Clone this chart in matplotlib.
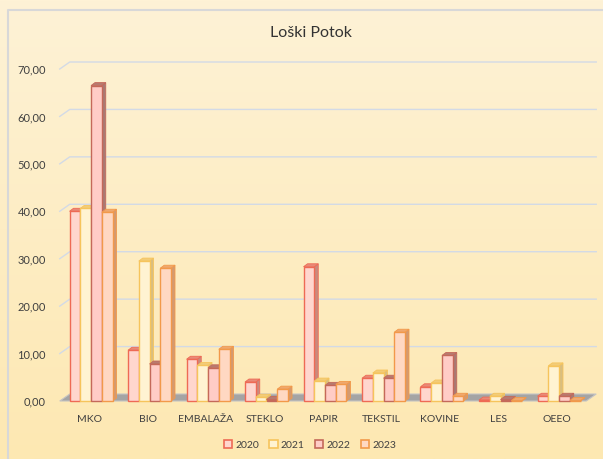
import numpy as np
import matplotlib
matplotlib.use("Agg")
import matplotlib.pyplot as plt
from matplotlib.patches import Polygon, Patch

plt.rcParams['font.family'] = ['Lato', 'DejaVu Sans']

# podatki
categories = ["MKO", "BIO", "EMBALAŽA", "STEKLO", "PAPIR", "TEKSTIL", "KOVINE", "LES", "OEEO"]
years = ["2020", "2021", "2022", "2023"]
v2020 = [40.0, 10.7, 8.8, 4.0, 28.3, 4.8, 3.0, 0.2, 1.0]
v2021 = [40.6, 29.5, 7.5, 0.8, 4.2, 5.9, 3.8, 1.0, 7.4]
v2022 = [66.5, 7.8, 7.0, 0.3, 3.3, 4.8, 9.6, 0.3, 1.0]
v2023 = [39.8, 28.0, 10.9, 2.5, 3.5, 14.5, 1.0, 0.1, 0.1]
series = [v2020, v2021, v2022, v2023]
yticks = list(range(0, 71, 10))

fills = ['#FFD6CE', '#FFF3D2', '#FFCCC6', '#FFD8C2']
edges = ['#EE6A55', '#F6C45C', '#C4695A', '#F2994A']
sides = ['#C98A7E', '#D9BE80', '#A87A74', '#D49A70']
tops = ['#E88A78', '#F2CC78', '#B87A70', '#EFA86E']

W, H = 603, 459
fig = plt.figure(figsize=(W / 100, H / 100), dpi=100)

# hozadje z gradientom
bg = fig.add_axes([0, 0, 1, 1])
grad = np.linspace(0, 1, 256).reshape(-1, 1)
c_top = np.array([254, 242, 214]) / 255
c_bot = np.array([253, 232, 178]) / 255
img = c_top[None, None, :] * (1 - grad[:, :, None]) + c_bot[None, None, :] * grad[:, :, None]
bg.imshow(img, aspect='auto', extent=[0, W, H, 0])
bg.set_xlim(0, W)
bg.set_ylim(H, 0)
bg.plot([8, 8, W], [H, 10, 10], color='#D8D8D8', lw=1.5)
bg.axis('off')

# glavna os (sprednja ravnina)
x0, x1 = 59.75, 586.25
y0, y1 = 401, 69
ax = fig.add_axes([x0 / W, (H - y0) / H, (x1 - x0) / W, (y0 - y1) / H])
ax.set_xlim(-0.5, 8.5)
ax.set_ylim(0, 70)
ax.patch.set_alpha(0)
for s in ax.spines.values():
    s.set_visible(False)

sx = (x1 - x0) / 9.0   # px na kategorijo
sy = (y0 - y1) / 70.0  # px na enoto

# globina stene
wdx, wdy = 10 / sx, 7 / sy
for v in yticks[1:]:
    ax.plot([-0.5, -0.5 + wdx, 8.5 + wdx], [v, v + wdy, v + wdy],
            color='#D3DAE6', lw=1, clip_on=False, zorder=1)

# tla
floor = Polygon([(-0.5, 0), (8.5, 0), (8.5 + wdx, wdy), (-0.5 + wdx, wdy)],
                closed=True, facecolor='#A4A4A4', edgecolor='#C4C4C4', lw=0.8,
                clip_on=False, zorder=2)
ax.add_patch(floor)

# stolpci s 3D učinkom
bw = 10.75 / sx
bdx, bdy = 4 / sx, 3 / sy
shift = 2 / sx
x = np.arange(len(categories))
z = 3
for ci in range(len(categories)):
    for si, vals in enumerate(series):
        xc = x[ci] + shift + (si - 1.5) * bw
        h = vals[ci]
        l, r = xc - bw / 2, xc + bw / 2
        side = Polygon([(r, 0), (r + bdx, bdy), (r + bdx, h + bdy), (r, h)],
                       closed=True, facecolor=sides[si], edgecolor=edges[si],
                       lw=0.6, clip_on=False, zorder=z)
        top = Polygon([(l, h), (r, h), (r + bdx, h + bdy), (l + bdx, h + bdy)],
                      closed=True, facecolor=tops[si], edgecolor=edges[si],
                      lw=0.6, clip_on=False, zorder=z)
        ax.add_patch(side)
        ax.add_patch(top)
        ax.bar(xc, h, width=bw, color=fills[si], edgecolor=edges[si],
               lw=1.0, clip_on=False, zorder=z + 1)
        z += 2

ax.set_xticks(x)
ax.set_xticklabels(categories, fontsize=7.5, color='#404040')
ax.set_yticks(yticks)
ax.set_yticklabels([f"{v:.2f}".replace('.', ',') for v in yticks],
                   fontsize=8, color='#404040')
ax.tick_params(axis='both', length=0)
ax.tick_params(axis='x', pad=10)
ax.tick_params(axis='y', pad=10)

fig.text(311 / W, 1 - 33 / H, "Loški Potok", ha='center', va='center',
         fontsize=11.5, color='#333333')

handles = [Patch(facecolor=fills[i], edgecolor=edges[i], lw=1.2) for i in range(4)]
fig.legend(handles, years, loc='center', bbox_to_anchor=(310 / W, 1 - 445 / H),
           ncol=4, frameon=False, fontsize=7.5, handlelength=0.8, handleheight=0.8,
           handletextpad=0.3, columnspacing=1.0, labelcolor='#404040')

fig.savefig("out.png", dpi=100)
